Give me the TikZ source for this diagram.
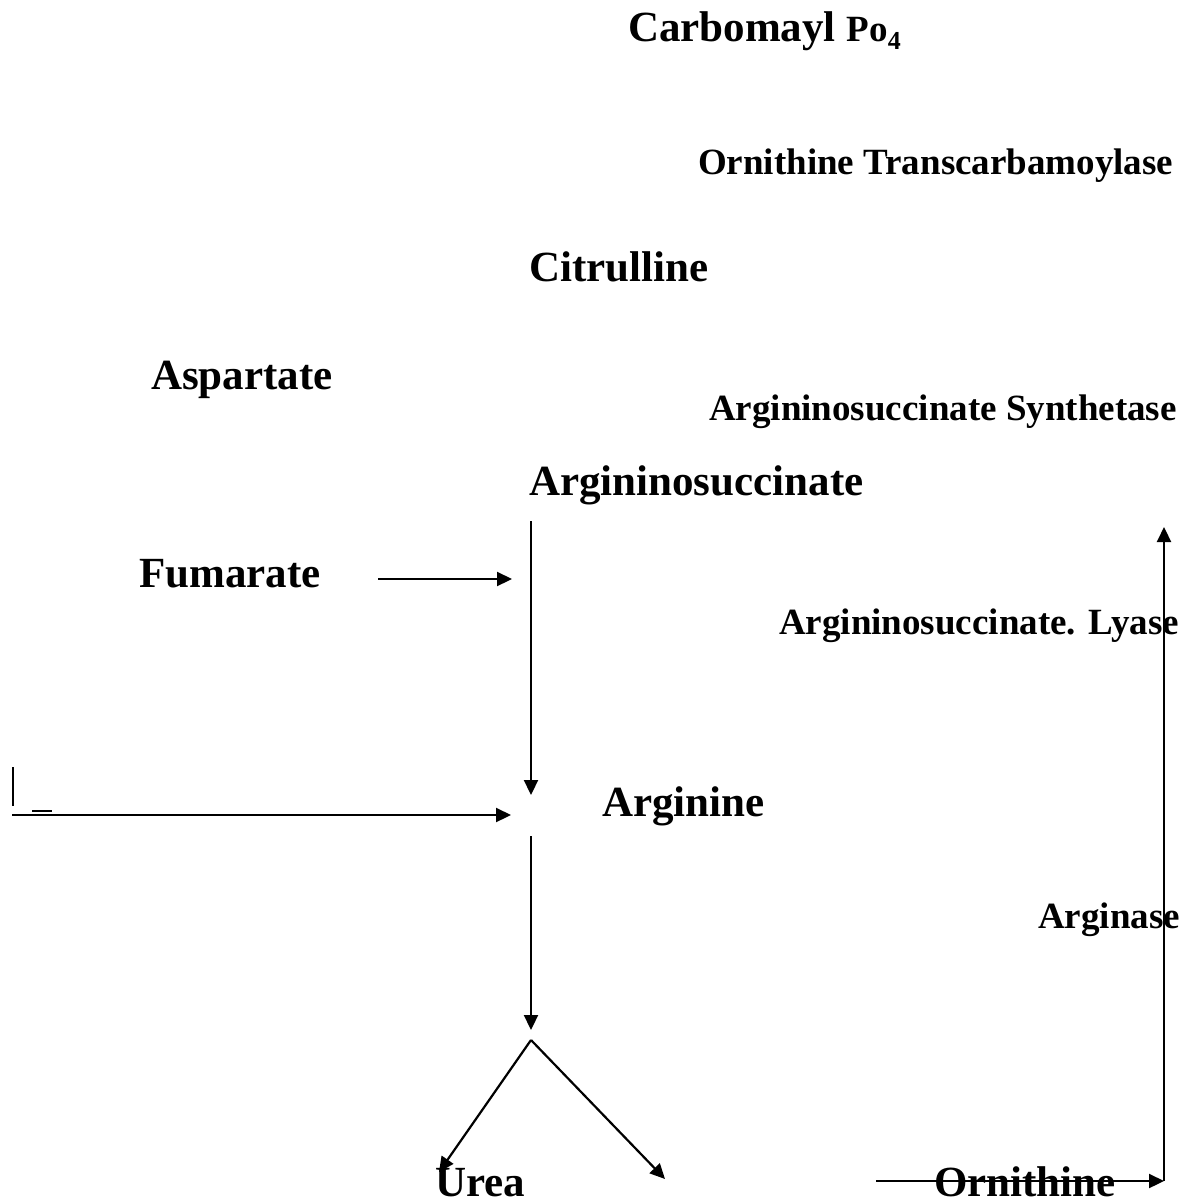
\documentclass[tikz,border=0pt]{standalone}
\usepackage{fontspec}
\setmainfont{Liberation Serif}
\usetikzlibrary{positioning, arrows.meta}

\begin{document}
\begin{tikzpicture}[
    x=1pt, y=-1pt, % pixel-like units, y grows downwards
    ->,
    >={Triangle[length=15pt,width=14pt]}, % filled arrow heads
    line width=2.2pt,
    every node/.style={inner sep=0pt, anchor=base west},
    big/.style={font=\bfseries\fontsize{43}{43}\selectfont},
    enzyme/.style={font=\bfseries\fontsize{37}{37}\selectfont}
]
\useasboundingbox (0,0) rectangle (1194,1202);

% Compounds
\node[big] (carb) at (627,41) {Carbomayl {\fontsize{37}{37}\selectfont Po\textsubscript{4}}};
\node[big] (citr) at (528,281) {Citrulline};
\node[big] (asp) at (150,389) {Aspartate};
\node[big] (argsucc) at (528,495) {Argininosuccinate};
\node[big] (fum) at (138,587) {Fumarate};
\node[big] (arg) at (601,816) {Arginine};
\node[big] (urea) at (434,1196) {Urea};
\node[big] (orn) at (933,1196) {Ornithine};

% Enzymes
\node[enzyme] (otc) at (697,174) {Ornithine Transcarbamoylase};
\node[enzyme] (ass) at (708,420) {Argininosuccinate Synthetase};
\node[enzyme] (asl) at (778,634) {Argininosuccinate. Lyase};
\node[enzyme] (argase) at (1037,928) {Arginase};

% Arrow end points
\coordinate (top1) at (531,521);
\coordinate (bot1) at (531,795);
\coordinate (fumA) at (378,579);
\coordinate (fumB) at (512,579);
\coordinate (longA) at (12,815);
\coordinate (longB) at (511,815);
\coordinate (top2) at (531,836);
\coordinate (bot2) at (531,1030);
\coordinate (apex) at (531,1040);
\coordinate (ureaT) at (439,1172);
\coordinate (ornT) at (665,1179);
\coordinate (ornA) at (876,1181);
\coordinate (corner) at (1164,1181);
\coordinate (upT) at (1164,527);

% Edges
\draw (top1) -- (bot1);
\draw (fumA) -- (fumB);
\draw (longA) -- (longB);
\draw (top2) -- (bot2);
\draw (apex) -- (ureaT);
\draw (apex) -- (ornT);
\draw (ornA) -- (corner);
\draw (corner) -- (upT);

% Stray marks
\draw[-] (13,767) -- (13,806);
\draw[-] (32,811) -- (52,811);

\end{tikzpicture}
\end{document}
